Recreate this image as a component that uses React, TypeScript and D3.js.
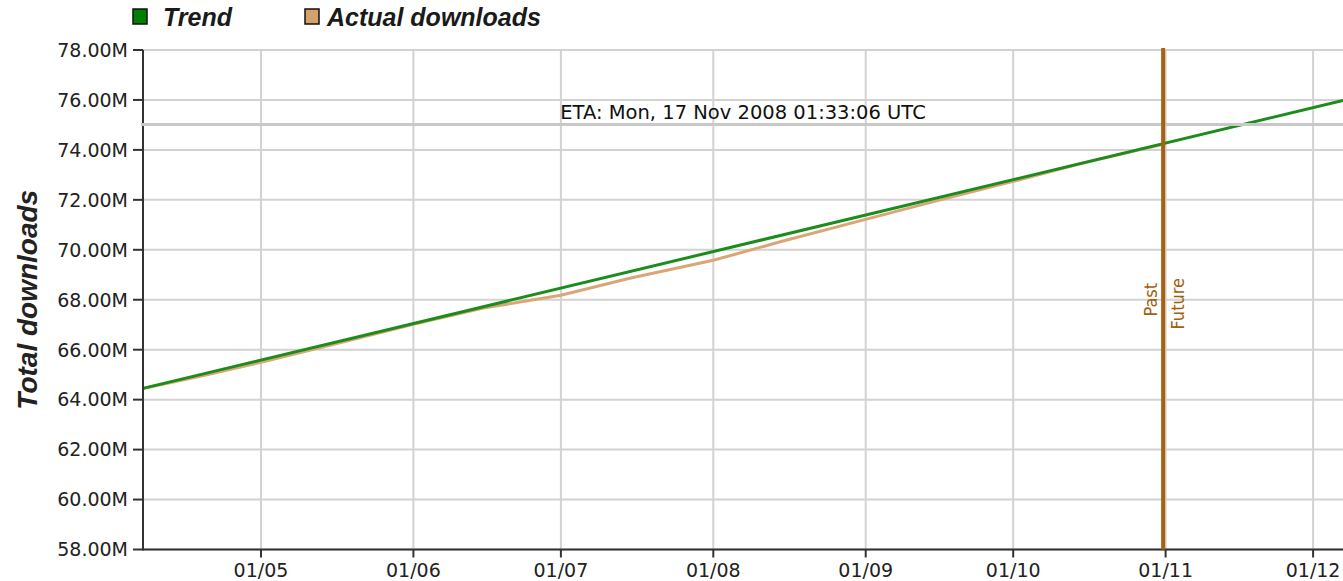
import React from "react";
import * as d3 from "d3";

const actualDates = [
  "2008-04-07", "2008-04-20", "2008-05-01", "2008-05-15", "2008-06-01", "2008-06-15",
  "2008-07-01", "2008-07-15", "2008-08-01", "2008-08-15", "2008-09-01", "2008-09-15",
  "2008-10-01", "2008-10-15", "2008-10-31T12:00",
];
const actualValues = [
  64.45, 65.0, 65.5, 66.18, 67.02, 67.66, 68.18, 68.86, 69.58, 70.34, 71.22, 71.94,
  72.74, 73.46, 74.22,
];
const trendDates = ["2008-04-07", "2008-12-07T02:00"];
const trendValues = [64.45, 75.98];
const yTicks = [58, 60, 62, 64, 66, 68, 70, 72, 74, 76, 78];
const xTickDates = ["2008-05-01", "2008-06-01", "2008-07-01", "2008-08-01", "2008-09-01", "2008-10-01", "2008-11-01", "2008-12-01"];
const nowDate = "2008-10-31T12:00";
const etaValue = 75;
const etaLabel = "ETA: Mon, 17 Nov 2008 01:33:06 UTC";
const legendItems = ["Trend", "Actual downloads"];
const yLabel = "Total downloads";

const W = 1343, H = 581;
const left = 143, right = 1343, top = 50, bottom = 549.5;

const parse = (s: string) => new Date(s);

export default function App() {
  const x = d3.scaleTime().domain([parse("2008-04-07"), parse("2008-12-07T02:00")]).range([left, right]);
  const y = d3.scaleLinear().domain([58, 78]).range([bottom, top]);
  const fmt = d3.timeFormat("%d/%m");
  const line = d3.line<[Date, number]>().x((d) => x(d[0])).y((d) => y(d[1]));
  const actual = actualDates.map((d, i) => [parse(d), actualValues[i]] as [Date, number]);
  const trend = trendDates.map((d, i) => [parse(d), trendValues[i]] as [Date, number]);
  const nowX = x(parse(nowDate));
  const tickFont = "DejaVu Sans";
  const grid = "#d2d2d2";
  const axisC = "#333";
  const midY = (top + bottom) / 2;
  return (
    <svg width={W} height={H} style={{ position: "absolute", left: 0, top: 0, background: "#fff" }}>
      {/* legend */}
      <g fontFamily="Liberation Sans" fontWeight="bold" fontStyle="italic" fontSize={25} fill="#1a1a1a">
        <rect x={133} y={9} width={14} height={15} fill="#008000" stroke="#111" strokeWidth={1.5} />
        <text x={163} y={25.5}>{legendItems[0]}</text>
        <rect x={305} y={9} width={14} height={15} fill="#d4a06c" stroke="#111" strokeWidth={1.5} />
        <text x={327} y={25.5}>{legendItems[1]}</text>
      </g>
      {/* grid */}
      {yTicks.map((t) => (
        <line key={"gy" + t} x1={left} x2={right} y1={y(t)} y2={y(t)} stroke={grid} strokeWidth={2} />
      ))}
      {xTickDates.map((d) => (
        <line key={"gx" + d} x1={x(parse(d))} x2={x(parse(d))} y1={top} y2={bottom} stroke={grid} strokeWidth={2} />
      ))}
      {/* lines */}
      <path d={line(actual) || ""} fill="none" stroke="#dba677" strokeWidth={3} />
      <path d={line(trend) || ""} fill="none" stroke="#1c8c1c" strokeWidth={3} />
      {/* axes */}
      <line x1={left} x2={left} y1={top} y2={bottom + 1} stroke={axisC} strokeWidth={2} />
      <line x1={left} x2={right} y1={bottom} y2={bottom} stroke={axisC} strokeWidth={2} />
      {yTicks.map((t) => (
        <g key={"ty" + t}>
          <line x1={left - 10} x2={left} y1={y(t)} y2={y(t)} stroke={axisC} strokeWidth={2} />
          <text x={128} y={y(t)} dy="0.36em" textAnchor="end" fontFamily={tickFont} fontSize={19} fill="#222">
            {t.toFixed(2) + "M"}
          </text>
        </g>
      ))}
      {xTickDates.map((d) => (
        <g key={"tx" + d}>
          <line x1={x(parse(d))} x2={x(parse(d))} y1={bottom} y2={bottom + 8} stroke={axisC} strokeWidth={2} />
          <text x={x(parse(d))} y={577} textAnchor="middle" fontFamily={tickFont} fontSize={19} fill="#222">
            {fmt(parse(d))}
          </text>
        </g>
      ))}
      {/* ETA */}
      <line x1={left - 2} x2={right} y1={y(etaValue) - 0.5} y2={y(etaValue) - 0.5} stroke="#c8c8c8" strokeWidth={3} />
      <text x={(left + right) / 2} y={119} textAnchor="middle" fontFamily={tickFont} fontSize={19.5} fill="#111">
        {etaLabel}
      </text>
      {/* now line */}
      <line x1={nowX} x2={nowX} y1={top - 2} y2={bottom} stroke="#a8620f" strokeWidth={4} />
      <text transform={`translate(${nowX - 6},${midY}) rotate(-90)`} textAnchor="middle" fontFamily="DejaVu Sans Condensed" fontSize={18} fill="#a0600f">
        Past
      </text>
      <text transform={`translate(${nowX + 6},${midY + 4}) rotate(-90)`} dy="0.8em" textAnchor="middle" fontFamily="DejaVu Sans Condensed" fontSize={18} fill="#a0600f">
        Future
      </text>
      {/* y label */}
      <text transform={`translate(37,${midY}) rotate(-90)`} textAnchor="middle" fontFamily="Liberation Sans" fontWeight="bold" fontStyle="italic" fontSize={28} fill="#222">
        {yLabel}
      </text>
    </svg>
  );
}
